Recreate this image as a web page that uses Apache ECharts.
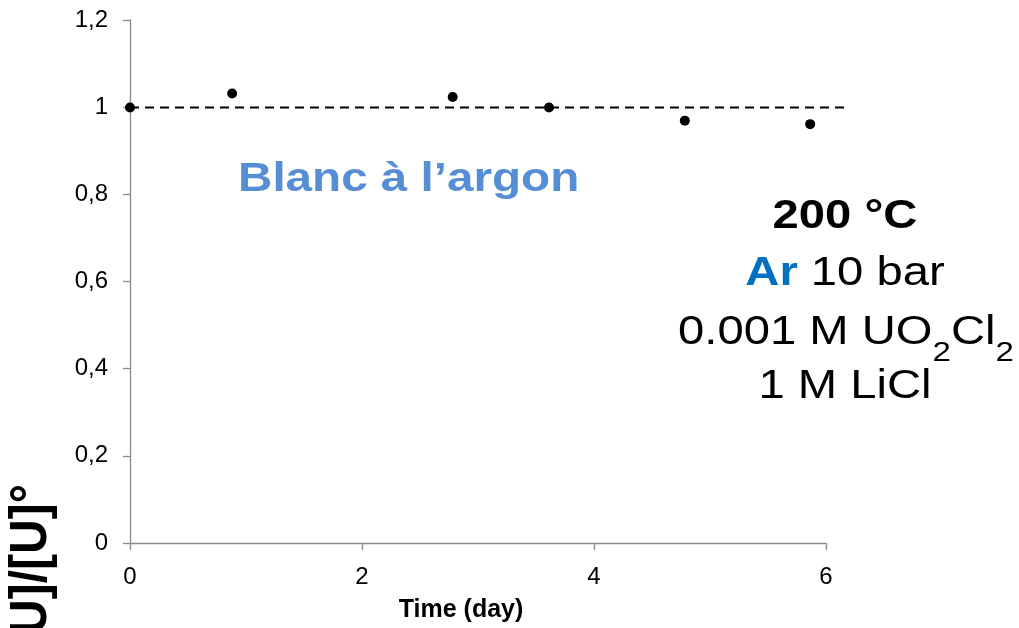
<!DOCTYPE html>
<html>
<head>
<meta charset="utf-8">
<script src="https://cdn.jsdelivr.net/npm/echarts@6/dist/echarts.min.js"></script>
<style>html,body{margin:0;padding:0;background:#fff}#c{width:1019px;height:628px}</style>
</head>
<body>
<div id="c"></div>
<script>
const timeDays = [0, 0.88, 2.78, 3.61, 4.78, 5.86];
const uRatio = [1.0, 1.032, 1.024, 1.0, 0.97, 0.962];
const refLineX = [0, 6.16];
const refLineY = [1, 1];
const xTicks = [0, 2, 4, 6];
const yTicks = [0, 0.2, 0.4, 0.6, 0.8, 1, 1.2];

const chart = echarts.init(document.getElementById('c'));
const FONT = '"Liberation Sans", Arial, sans-serif';
const SX = 1.18;
const axisCommon = {
  axisLine: {show: true, lineStyle: {color: '#8a8a8a', width: 1.3}},
  axisTick: {show: true, length: 7, lineStyle: {color: '#8a8a8a', width: 1.3}},
  splitLine: {show: false}
};
chart.setOption({
  animation: false,
  grid: [
    {left: 130, right: 174, top: 20, bottom: 83},
    {left: 130, right: 193, top: 20, bottom: 83}
  ],
  xAxis: [
    {gridIndex: 0, type: 'value', min: refLineX[0], max: refLineX[1], show: false},
    Object.assign({
      gridIndex: 1, type: 'value', min: xTicks[0], max: xTicks[xTicks.length - 1], interval: 2,
      axisLabel: {color: '#000', fontSize: 24, fontFamily: FONT, margin: 22},
      name: 'Time (day)', nameLocation: 'middle', nameGap: 55,
      nameTextStyle: {color: '#000', fontSize: 25, fontWeight: 'bold', fontFamily: FONT, padding: [0, 34, 0, 0]}
    }, axisCommon)
  ],
  yAxis: [
    {gridIndex: 0, type: 'value', min: yTicks[0], max: yTicks[yTicks.length - 1], show: false},
    Object.assign({
      gridIndex: 1, type: 'value', min: yTicks[0], max: yTicks[yTicks.length - 1], interval: 0.2,
      axisLabel: {color: '#000', fontSize: 24, fontFamily: FONT, margin: 22,
        formatter: v => String(Math.round(v * 10) / 10).replace('.', ',')}
    }, axisCommon)
  ],
  series: [
    {type: 'line', xAxisIndex: 0, yAxisIndex: 0,
     data: refLineX.map((x, i) => [x, refLineY[i]]), symbol: 'none',
     lineStyle: {color: '#000', width: 2, type: [9, 6]}, silent: true},
    {type: 'scatter', xAxisIndex: 0, yAxisIndex: 0,
     data: timeDays.map((x, i) => [x, uRatio[i]]), symbolSize: 10,
     itemStyle: {color: '#000', opacity: 1}, z: 5}
  ],
  graphic: [
    {type: 'text', x: 238, y: 180, scaleX: 1.19, style: {text: 'Blanc à l\u2019argon', fill: '#558ED5', font: 'bold 40px ' + FONT, textVerticalAlign: 'middle'}},
    {type: 'text', x: 845, y: 217, scaleX: SX, style: {text: '200 °C', fill: '#000', font: 'bold 40px ' + FONT, textAlign: 'center', textVerticalAlign: 'middle'}},
    {type: 'text', x: 845, y: 274, scaleX: SX, style: {
      text: '{b|Ar} {n|10 bar}', textAlign: 'center', textVerticalAlign: 'middle',
      rich: {b: {fill: '#0070C0', font: 'bold 40px ' + FONT}, n: {fill: '#000', font: '40px ' + FONT}},
      font: '40px ' + FONT}},
    {type: 'text', x: 846, y: 333, scaleX: SX, style: {
      text: '{n|0.001 M UO}{s|2}{n|Cl}{s|2}', textAlign: 'center', textVerticalAlign: 'middle',
      rich: {n: {fill: '#000', font: '40px ' + FONT, height: 44, verticalAlign: 'bottom'}, s: {fill: '#000', font: '28px ' + FONT, verticalAlign: 'bottom', padding: [0,0,-12,0]}},
      font: '40px ' + FONT}},
    {type: 'text', x: 845, y: 387, scaleX: SX, style: {text: '1 M LiCl', fill: '#000', font: '40px ' + FONT, textAlign: 'center', textVerticalAlign: 'middle'}},
    {type: 'text', x: 32, y: 567, rotation: Math.PI / 2, scaleY: 1.08, style: {text: '[U]/[U]°', fill: '#000', font: 'bold 48px ' + FONT, textAlign: 'center', textVerticalAlign: 'middle'}}
  ]
});
</script>
</body>
</html>
